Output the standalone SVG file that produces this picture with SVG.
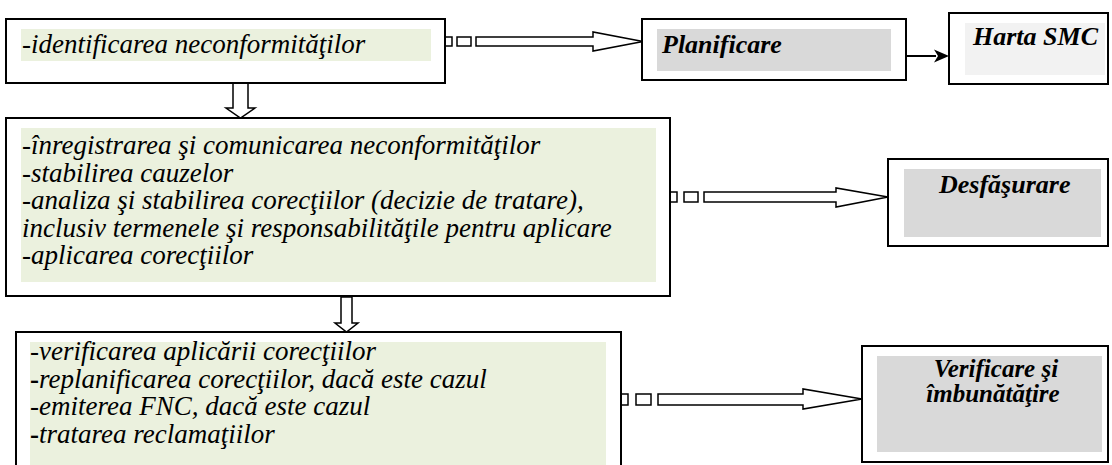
<svg xmlns="http://www.w3.org/2000/svg" width="1112" height="465" viewBox="0 0 1112 465">
<style>
.box{fill:#ffffff;stroke:#000000;stroke-width:2}
.green{fill:#ebf1de}
.gray{fill:#d9d9d9}
.light{fill:#f2f2f2}
text{font-family:'Liberation Serif','Times New Roman',serif}
.body{font-style:italic;font-size:27px;fill:#000000}
.label{font-style:italic;font-weight:bold;font-size:26px;fill:#000000}
.hollow{fill:#ffffff;stroke:#000000;stroke-width:1.5;stroke-linejoin:miter}
.line{fill:none;stroke:#000000;stroke-width:2}
</style>

<g id="connectors">
  <rect class="hollow" x="445" y="37" width="7" height="9"/>
  <rect class="hollow" x="457" y="37" width="14" height="9"/>
  <path class="hollow" d="M476,37 H593 V32 L643,41.5 L593,51 V46 H476 Z"/>
  <line class="line" x1="906" y1="56" x2="936" y2="56"/>
  <path d="M934,49.5 L949,56 L934,62.5 L938,56 Z" fill="#000000"/>
  <path class="hollow" d="M233,83 V108 H226 L240.5,118 L255,108 H248 V83 Z"/>
  <rect class="hollow" x="670" y="192" width="7" height="10"/>
  <rect class="hollow" x="684" y="192" width="14" height="10"/>
  <path class="hollow" d="M704,192 H836 V188 L888,197 L836,207 V202 H704 Z"/>
  <path class="hollow" d="M341,297 V323 H335 L346.5,332 L358,323 H352 V297 Z"/>
  <rect class="hollow" x="621" y="394" width="7" height="11"/>
  <rect class="hollow" x="636" y="394" width="15" height="11"/>
  <path class="hollow" d="M658,394 H803 V389 L862,399 L803,409 V405 H658 Z"/>
</g>

<g id="box1">
  <rect class="box" x="6" y="19" width="439" height="64"/>
  <rect class="green" x="21" y="29" width="410" height="32"/>
  <text class="body" x="22" y="53">-identificarea neconformităţilor</text>
</g>

<g id="planificare">
  <rect class="box" x="642" y="19" width="264" height="61"/>
  <rect class="gray" x="657" y="29" width="234" height="42"/>
  <text class="label" x="662" y="53">Planificare</text>
</g>

<g id="harta">
  <rect class="box" x="949" y="13" width="159" height="71"/>
  <rect class="light" x="965" y="23" width="140" height="52"/>
  <text class="label" x="973" y="45">Harta SMC</text>
</g>

<g id="box2">
  <rect class="box" x="6" y="118" width="664" height="178"/>
  <rect class="green" x="21" y="128" width="635" height="154"/>
  <text class="body" x="22" y="154">-înregistrarea şi comunicarea neconformităţilor</text>
  <text class="body" x="22" y="182">-stabilirea cauzelor</text>
  <text class="body" x="22" y="209">-analiza şi stabilirea corecţiilor (decizie de tratare),</text>
  <text class="body" x="22" y="237">inclusiv termenele şi responsabilităţile pentru aplicare</text>
  <text class="body" x="22" y="264">-aplicarea corecţiilor</text>
</g>

<g id="desfasurare">
  <rect class="box" x="888" y="159" width="220" height="87"/>
  <rect class="gray" x="904" y="169" width="197" height="68"/>
  <text class="label" x="939" y="193">Desfăşurare</text>
</g>

<g id="box3">
  <rect class="box" x="16" y="332" width="605" height="140"/>
  <rect class="green" x="30" y="342" width="576" height="130"/>
  <text class="body" x="30" y="360">-verificarea aplicării corecţiilor</text>
  <text class="body" x="30" y="387.5"><tspan font-weight="bold" font-style="normal">-</tspan>replanificarea corecţiilor, dacă este cazul</text>
  <text class="body" x="30" y="415">-emiterea FNC, dacă este cazul</text>
  <text class="body" x="30" y="442.5"><tspan font-weight="bold" font-style="normal">-</tspan>tratarea reclamaţiilor</text>
</g>

<g id="verificare">
  <rect class="box" x="862" y="346" width="246" height="116"/>
  <rect class="gray" x="877" y="356" width="225" height="96"/>
  <text class="label" x="996" y="377" text-anchor="middle" style="font-size:25px">Verificare şi</text>
  <text class="label" x="993" y="402" text-anchor="middle" style="font-size:25px">îmbunătăţire</text>
</g>
</svg>
